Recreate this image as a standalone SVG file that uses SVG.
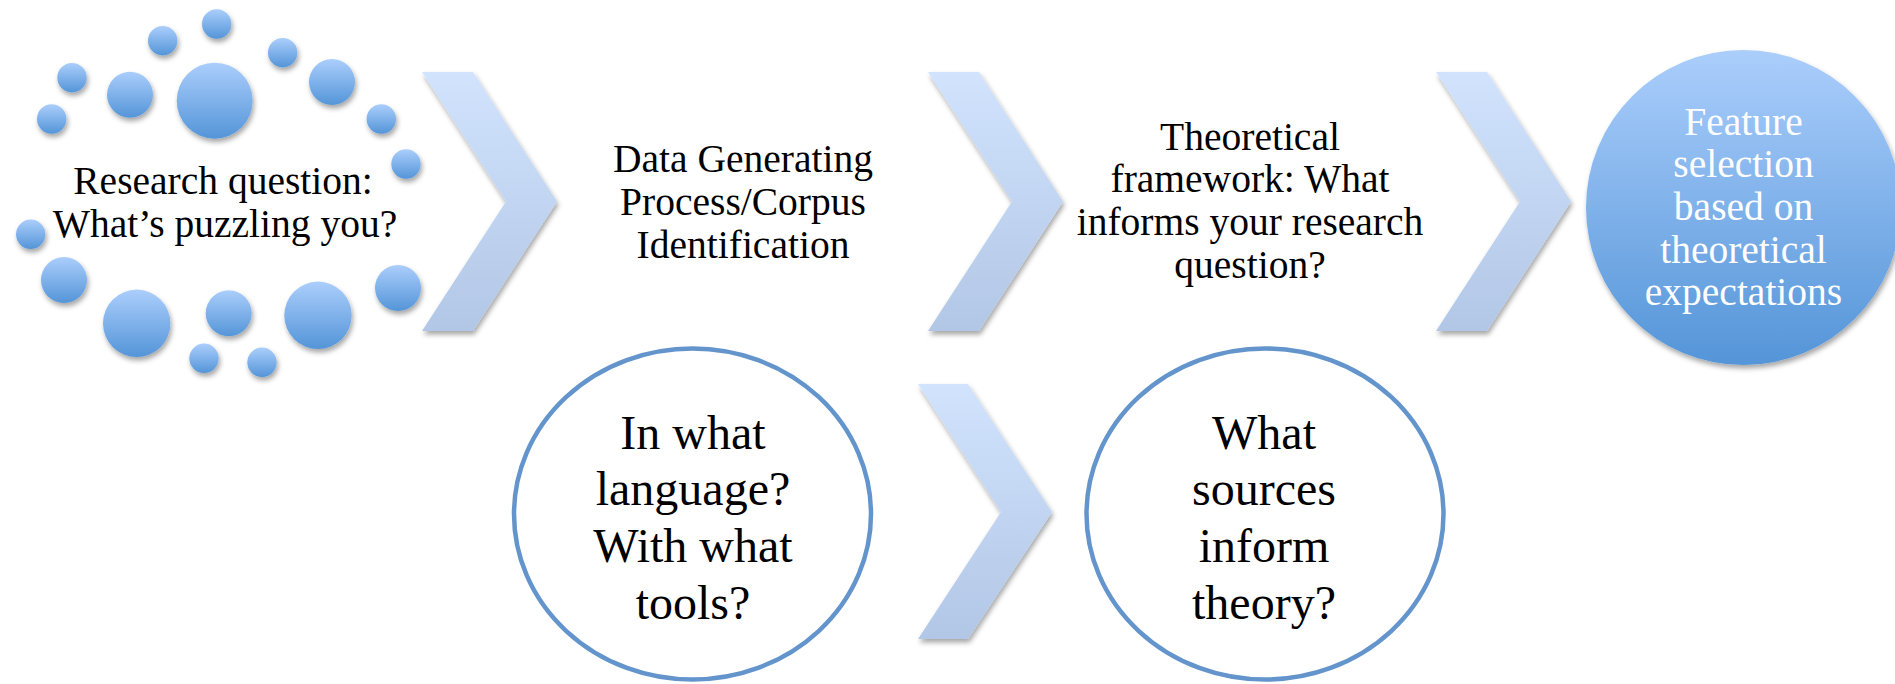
<svg xmlns="http://www.w3.org/2000/svg" width="1895" height="684" viewBox="0 0 1895 684">
  <defs>
    <linearGradient id="gBall" x1="0" y1="0" x2="0" y2="1">
      <stop offset="0" stop-color="#abcefc"/>
      <stop offset="1" stop-color="#5495d8"/>
    </linearGradient>
    <linearGradient id="gChev" x1="0" y1="0" x2="0" y2="1">
      <stop offset="0" stop-color="#d1e3fd"/>
      <stop offset="1" stop-color="#b2c7e6"/>
    </linearGradient>
    <filter id="shadow" x="-20%" y="-20%" width="140%" height="150%">
      <feDropShadow dx="1.5" dy="3.5" stdDeviation="2.5" flood-color="#000" flood-opacity="0.35"/>
    </filter>
    <style>
      .ball { fill: url(#gBall); filter: url(#shadow); }
      .chev { fill: url(#gChev); filter: url(#shadow); }
      .ring { fill: #ffffff; stroke: #6395cc; stroke-width: 4.5; }
      .t { font-family: "Liberation Serif", "Times New Roman", serif; font-size: 39.5px; fill: #000; text-anchor: middle; }
      .tw { fill: #ffffff; }
      .tb { font-size: 48px; }
    </style>
  </defs>
  <rect width="1895" height="684" fill="#ffffff"/>

  <g id="connectors">
    <polygon class="chev" points="422,72 473,72 557,201.5 473,331 422,331 506,201.5"/>
    <polygon class="chev" points="928,72 979,72 1063,201.5 979,331 928,331 1012,201.5"/>
    <polygon class="chev" points="1436,72 1487,72 1571,201.5 1487,331 1436,331 1520,201.5"/>
    <polygon class="chev" points="918,384 968,384 1052,512 968,639 918,639 1001,512"/>
  </g>

  <g id="research-question">
    <circle class="ball" cx="216.7" cy="24" r="14.7"/>
    <circle class="ball" cx="162.7" cy="40.7" r="14.7"/>
    <circle class="ball" cx="282.7" cy="52.7" r="14.7"/>
    <circle class="ball" cx="72" cy="77.7" r="14.7"/>
    <circle class="ball" cx="130" cy="94.7" r="23"/>
    <circle class="ball" cx="214.7" cy="100.7" r="38"/>
    <circle class="ball" cx="332" cy="82" r="23"/>
    <circle class="ball" cx="51.7" cy="119" r="14.7"/>
    <circle class="ball" cx="381.3" cy="119" r="14.7"/>
    <circle class="ball" cx="406" cy="164" r="14.7"/>
    <circle class="ball" cx="30.7" cy="234.3" r="14.7"/>
    <circle class="ball" cx="64" cy="280" r="23"/>
    <circle class="ball" cx="398" cy="288" r="23"/>
    <circle class="ball" cx="136.7" cy="323.3" r="33.7"/>
    <circle class="ball" cx="228.7" cy="313.3" r="23"/>
    <circle class="ball" cx="318" cy="315.3" r="33.7"/>
    <circle class="ball" cx="204" cy="358.3" r="14.7"/>
    <circle class="ball" cx="262" cy="362.3" r="14.7"/>
    <text class="t" x="223" y="194">Research question:</text>
    <text class="t" x="225" y="237">What’s puzzling you?</text>
  </g>

  <g id="data-generating">
    <text class="t" x="743" y="171.5">Data Generating</text>
    <text class="t" x="743" y="214.5">Process/Corpus</text>
    <text class="t" x="743" y="257.5">Identification</text>
  </g>

  <g id="theoretical-framework">
    <text class="t" x="1250" y="150">Theoretical</text>
    <text class="t" x="1250" y="192">framework: What</text>
    <text class="t" x="1250" y="235">informs your research</text>
    <text class="t" x="1250" y="278">question?</text>
  </g>

  <g id="feature-selection">
    <circle class="ball" cx="1743.5" cy="207.5" r="157.5"/>
    <text class="t tw" x="1743.5" y="135">Feature</text>
    <text class="t tw" x="1743.5" y="177">selection</text>
    <text class="t tw" x="1743.5" y="220">based on</text>
    <text class="t tw" x="1743.5" y="263">theoretical</text>
    <text class="t tw" x="1743.5" y="305">expectations</text>
  </g>

  <g id="language-tools">
    <ellipse class="ring" cx="692.5" cy="514" rx="178.5" ry="165.5"/>
    <text class="t tb" x="693" y="449">In what</text>
    <text class="t tb" x="693" y="505">language?</text>
    <text class="t tb" x="693" y="562">With what</text>
    <text class="t tb" x="693" y="619">tools?</text>
  </g>

  <g id="sources-theory">
    <ellipse class="ring" cx="1265" cy="514" rx="178.5" ry="165.5"/>
    <text class="t tb" x="1264" y="449">What</text>
    <text class="t tb" x="1264" y="505">sources</text>
    <text class="t tb" x="1264" y="562">inform</text>
    <text class="t tb" x="1264" y="619">theory?</text>
  </g>
</svg>
